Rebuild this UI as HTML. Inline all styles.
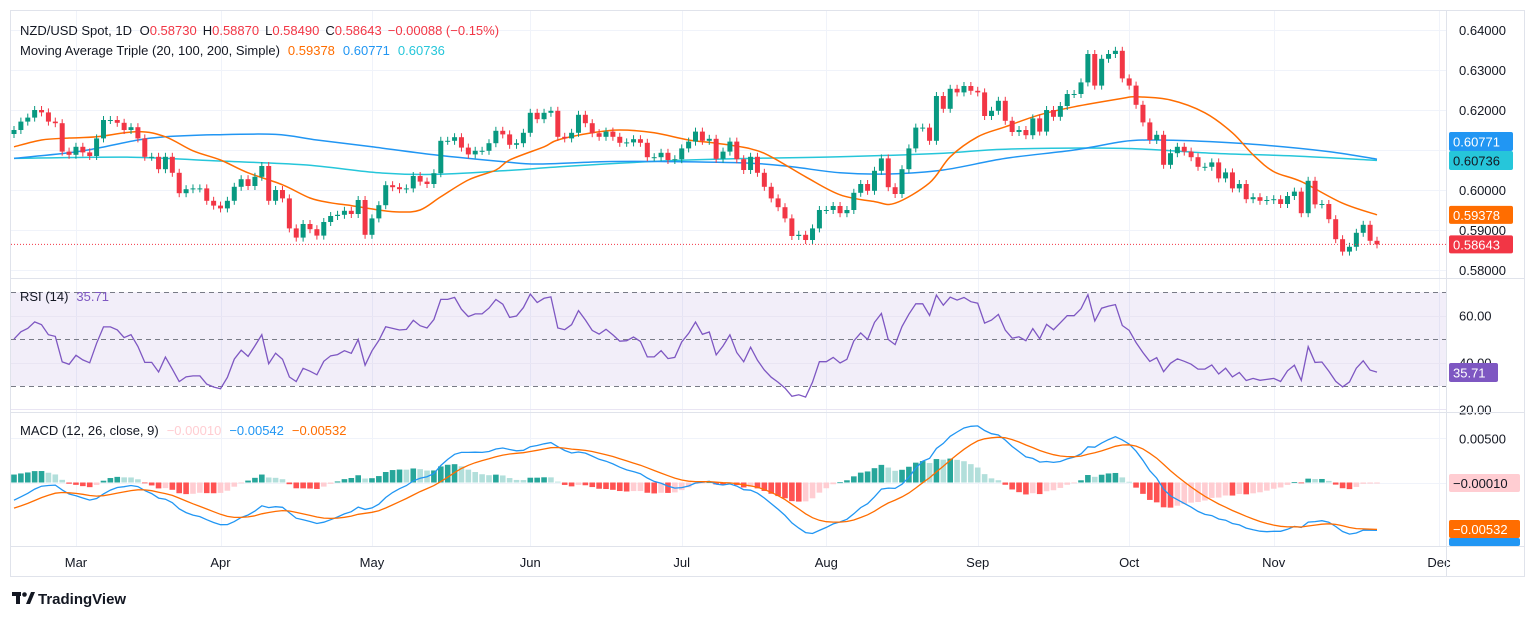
<!DOCTYPE html>
<html><head><meta charset="utf-8"><style>
html,body{margin:0;padding:0;background:#fff;width:1536px;height:618px;overflow:hidden}
svg{display:block;font-family:"Liberation Sans",sans-serif}
</style></head><body>
<svg id="c" width="1536" height="618" viewBox="0 0 1536 618" xmlns="http://www.w3.org/2000/svg">
<rect x="10.5" y="10.5" width="1514" height="566" fill="#fff" stroke="#e0e3eb"/>
<g id="grid"></g>
<g id="price"></g>
<g id="rsi"></g>
<g id="macd"></g>
<g id="axes"></g>
<line x1="11" y1="278.5" x2="1524" y2="278.5" stroke="#e0e3eb"/>
<line x1="11" y1="412.5" x2="1524" y2="412.5" stroke="#e0e3eb"/>
<line x1="11" y1="546.5" x2="1524" y2="546.5" stroke="#e0e3eb"/>
<line x1="1446.5" y1="11" x2="1446.5" y2="577" stroke="#e0e3eb"/>
<text x="20" y="35" font-size="13" fill="#131722">NZD/USD Spot, 1D <tspan dx="4">O</tspan><tspan fill="#f23645">0.58730</tspan><tspan dx="6">H</tspan><tspan fill="#f23645">0.58870</tspan><tspan dx="6">L</tspan><tspan fill="#f23645">0.58490</tspan><tspan dx="6">C</tspan><tspan fill="#f23645">0.58643</tspan><tspan dx="6" fill="#f23645">−0.00088 (−0.15%)</tspan></text>
<text x="20" y="55" font-size="13" fill="#131722">Moving Average Triple (20, 100, 200, Simple)<tspan dx="8" fill="#ff6d00">0.59378</tspan><tspan dx="8" fill="#2196f3">0.60771</tspan><tspan dx="8" fill="#26c6da">0.60736</tspan></text>
<text x="20" y="301" font-size="13" fill="#131722">RSI (14)<tspan dx="8" fill="#7e57c2">35.71</tspan></text>
<text x="20" y="435" font-size="13" fill="#131722">MACD (12, 26, close, 9)<tspan dx="8" fill="#ffcdd2">−0.00010</tspan><tspan dx="8" fill="#2196f3">−0.00542</tspan><tspan dx="8" fill="#ff6d00">−0.00532</tspan></text>
<g>
<rect x="12" y="592" width="9" height="4" fill="#131722"/><rect x="16" y="592" width="4" height="12" fill="#131722"/>
<circle cx="24.5" cy="594.5" r="2.3" fill="#131722"/><polygon points="26,604 31,592 35,592 30,604" fill="#131722"/>
<text x="38" y="604" font-size="15" font-weight="bold" fill="#131722">TradingView</text>
</g>
</svg>
<script>
const closes=[0.6150,0.6171,0.6181,0.6200,0.6194,0.6171,0.6167,0.6096,0.6088,0.6108,
0.6094,0.6085,0.6129,0.6175,0.6175,0.6168,0.6150,0.6157,0.6129,0.6083,
0.6083,0.6052,0.6083,0.6043,0.5992,0.6002,0.6004,0.6004,0.5973,0.5961,
0.5954,0.5973,0.6008,0.6027,0.6010,0.6033,0.6060,0.5973,0.6000,0.5979,
0.5904,0.5881,0.5915,0.5902,0.5886,0.5920,0.5935,0.5938,0.5948,0.5940,
0.5975,0.5888,0.5929,0.5962,0.6012,0.6007,0.6002,0.6004,0.6035,0.6021,
0.6015,0.6042,0.6123,0.6123,0.6132,0.6106,0.6089,0.6098,0.6098,0.6117,
0.6148,0.6139,0.6113,0.6117,0.6143,0.6193,0.6177,0.6193,0.6198,0.6133,
0.6129,0.6143,0.6188,0.6167,0.6142,0.6133,0.6146,0.6133,0.6118,0.6119,
0.6127,0.6118,0.6082,0.6082,0.6093,0.6075,0.6077,0.6104,0.6121,0.6146,
0.6123,0.6128,0.6078,0.6096,0.6121,0.6077,0.6050,0.6083,0.6043,0.6008,
0.5979,0.5957,0.5929,0.5885,0.5888,0.5875,0.5904,0.5950,0.5950,0.5960,
0.5942,0.5950,0.5993,0.6015,0.5998,0.6048,0.6079,0.6007,0.5990,0.6052,
0.6104,0.6156,0.6156,0.6123,0.6235,0.6203,0.6253,0.6244,0.6260,0.6248,
0.6244,0.6185,0.6198,0.6223,0.6173,0.6145,0.6150,0.6137,0.6179,0.6146,
0.6200,0.6183,0.6210,0.6240,0.6240,0.6269,0.6340,0.6261,0.6328,0.6340,
0.6348,0.6279,0.6261,0.6213,0.6169,0.6125,0.6138,0.6063,0.6092,0.6108,
0.6096,0.6082,0.6058,0.6058,0.6069,0.6029,0.6044,0.6004,0.6015,0.5977,
0.5982,0.5973,0.5975,0.5977,0.5965,0.5985,0.5996,0.5942,0.6023,0.5964,
0.5965,0.5927,0.5877,0.5846,0.5858,0.5893,0.5913,0.5873,0.5864];
const firstOpen=0.6140;
const ma20Idx=[0,4,8,12,18,22,26,30,34,39,43,46,49,53,56,59,62,66,70,72,77,79,84,88,93,98,102,107,110,115,120,125,128,133,136,140,144,149,154,161,163,168,173,177,180,183,187,193,198];
const ma20=[0.6108,0.6125,0.6130,0.6133,0.6146,0.6133,0.6098,0.6075,0.6043,0.6013,0.5980,0.5968,0.5961,0.5950,0.5945,0.5950,0.5983,0.6025,0.6050,0.6075,0.6108,0.6125,0.6143,0.6150,0.6143,0.6125,0.6117,0.6103,0.6083,0.6033,0.5988,0.5971,0.5967,0.6018,0.6083,0.6133,0.6158,0.6188,0.6208,0.6229,0.6233,0.6225,0.6193,0.6143,0.6088,0.6046,0.6021,0.5967,0.5938];
const ma100Idx=[0,8,12,18,22,29,38,44,52,61,71,76,86,95,107,113,120,127,135,144,154,161,165,171,181,191,198];
const ma100=[0.6079,0.6093,0.6104,0.6125,0.6133,0.6138,0.6139,0.6125,0.6108,0.6088,0.6071,0.6065,0.6071,0.6071,0.6067,0.6058,0.6043,0.6040,0.6050,0.6079,0.6100,0.6121,0.6125,0.6123,0.6113,0.6096,0.6077];
const ma200Idx=[0,17,29,42,53,61,71,81,95,107,120,135,144,161,174,186,198];
const ma200=[0.6079,0.6082,0.6073,0.6063,0.6043,0.6039,0.6048,0.6060,0.6073,0.6079,0.6083,0.6092,0.6102,0.6104,0.6092,0.6085,0.6074];
const priceTicks=[0.64,0.63,0.62,0.61,0.60,0.59,0.58];
const priceTickLabels=["0.64000","0.63000","0.62000","0.61000","0.60000","0.59000","0.58000"];
const rsiTicks=[60,40,20];
const rsiTickLabels=["60.00","40.00","20.00"];
const rsiBands=[70,50,30];
const macdTicks=[0.005];
const macdTickLabels=["0.00500"];
const months=["Mar","Apr","May","Jun","Jul","Aug","Sep","Oct","Nov","Dec"];
const monthIdx=[9,30,52,75,97,118,140,162,183,207];
const rsiSeedGain=0.0012, rsiSeedLoss=0.0012;
const ema12Seed=0.6142, ema26Seed=0.6162, signalSeed=-0.0029;

const NS="http://www.w3.org/2000/svg";
const X0=14, DX=(1377-14)/198, BW=5;
const xs=i=>X0+i*DX;
const yP=p=>30+(0.64-p)*4000;
const yR=v=>386-(v-30)*2.3425;
const yM=v=>482.5-v*8840;
function mk(tag,attrs,parent){const e=document.createElementNS(NS,tag);for(const k in attrs)e.setAttribute(k,attrs[k]);parent.appendChild(e);return e;}
const grid=document.getElementById('grid'),gP=document.getElementById('price'),gR=document.getElementById('rsi'),gM=document.getElementById('macd'),gA=document.getElementById('axes');

monthIdx.forEach((m,i)=>{const x=Math.round(xs(m))+0.5;if(x<1446){const l=mk('line',{x1:x,y1:11,x2:x,y2:546,stroke:'#f0f3fa'},grid);

}
const t=mk('text',{x:xs(m),y:567,'font-size':13,fill:'#131722','text-anchor':'middle'},gA);t.textContent=months[i];

});
priceTicks.forEach((p,i)=>{const y=Math.round(yP(p))+0.5;const l=mk('line',{x1:11,y1:y,x2:1446,y2:y,stroke:'#f0f3fa'},grid);


const t=mk('text',{x:1459,y:yP(p)+5,'font-size':13,fill:'#131722'},gA);t.textContent=priceTickLabels[i];

});
const bg=mk('rect',{x:11,y:yR(70),width:1435,height:yR(30)-yR(70),fill:'#7e57c2','fill-opacity':0.1},gR);


rsiTicks.forEach((v,i)=>{const y=Math.round(yR(v))+0.5;const l=mk('line',{x1:11,y1:y,x2:1446,y2:y,stroke:'#e9e5f3'},gR);


const t=mk('text',{x:1459,y:yR(v)+5,'font-size':13,fill:'#131722'},gA);t.textContent=rsiTickLabels[i];

});
rsiBands.forEach(v=>{const y=Math.round(yR(v))+0.5;const l=mk('line',{x1:11,y1:y,x2:1446,y2:y,stroke:'#787b86','stroke-dasharray':'5,4'},gR);

});
macdTicks.forEach((v,i)=>{const y=Math.round(yM(v))+0.5;const l=mk('line',{x1:11,y1:y,x2:1446,y2:y,stroke:'#f0f3fa'},grid);


const t=mk('text',{x:1459,y:yM(v)+5,'font-size':13,fill:'#131722'},gA);t.textContent=macdTickLabels[i];

});
const z=mk('line',{x1:11,y1:Math.round(yM(0))+0.5,x2:1446,y2:Math.round(yM(0))+0.5,stroke:'#f0f3fa'},grid);



function smooth(pts){let d='M'+pts[0][0].toFixed(1)+','+pts[0][1].toFixed(1);
for(let i=0;i<pts.length-1;i++){const p0=pts[Math.max(0,i-1)],p1=pts[i],p2=pts[i+1],p3=pts[Math.min(pts.length-1,i+2)];
const c1=[p1[0]+(p2[0]-p0[0])/6,p1[1]+(p2[1]-p0[1])/6],c2=[p2[0]-(p3[0]-p1[0])/6,p2[1]-(p3[1]-p1[1])/6];
d+='C'+c1.map(v=>v.toFixed(1)).join(',')+' '+c2.map(v=>v.toFixed(1)).join(',')+' '+p2[0].toFixed(1)+','+p2[1].toFixed(1);}return d;}
function line(arr){return 'M'+arr.map(p=>p[0].toFixed(1)+','+p[1].toFixed(1)).join('L');}

[[ma200Idx,ma200,'#26c6da','ma200-line'],[ma100Idx,ma100,'#2196f3','ma100-line'],[ma20Idx,ma20,'#ff6d00','ma20-line']].forEach(s=>{
const p=mk('path',{d:smooth(s[0].map((k,i)=>[xs(k),yP(s[1][i])])),fill:'none',stroke:s[2],'stroke-width':1.5},gP);

});

closes.forEach((c,i)=>{const o=i?closes[i-1]:firstOpen;const up=c>=o;const col=up?'#089981':'#f23645';
const hi=Math.max(o,c)+0.0010,lo=Math.min(o,c)-0.0010;const x=xs(i);
const g=mk('g',{},gP);


mk('line',{x1:x,y1:yP(hi),x2:x,y2:yP(lo),stroke:col,'stroke-width':1},g);
const t=yP(Math.max(o,c)),b=yP(Math.min(o,c));
mk('rect',{x:x-BW/2,y:t,width:BW,height:Math.max(1,b-t),fill:col},g);});
const last=closes[closes.length-1];
const pl=mk('line',{x1:11,y1:yP(last),x2:1446,y2:yP(last),stroke:'#f23645','stroke-dasharray':'1,2'},gP);



let ag=rsiSeedGain,al=rsiSeedLoss;const rsi=[100-100/(1+ag/al)];
for(let i=1;i<closes.length;i++){const d=closes[i]-closes[i-1];ag=(ag*13+Math.max(d,0))/14;al=(al*13+Math.max(-d,0))/14;rsi.push(100-100/(1+ag/al));}
const rp=mk('path',{d:line(rsi.map((v,i)=>[xs(i),yR(v)])),fill:'none',stroke:'#7e57c2','stroke-width':1.3},gR);



let e12=ema12Seed,e26=ema26Seed,sg=signalSeed;const mac=[],sig=[];
closes.forEach((c,i)=>{if(i){e12+=(c-e12)*2/13;e26+=(c-e26)*2/27;}const m=e12-e26;if(i)sg+=(m-sg)*2/10;mac.push(m);sig.push(sg);});
const hist=mac.map((m,i)=>m-sig[i]);
hist.forEach((h,i)=>{const prev=i?hist[i-1]:h;let col;if(h>=0)col=h>=prev?'#26a69a':'#b2dfdb';else col=h<prev?'#ff5252':'#ffcdd2';
const y0=yM(0),y1=yM(h);const r=mk('rect',{x:xs(i)-2.8,y:Math.min(y0,y1),width:5.6,height:Math.max(0.8,Math.abs(y1-y0)),fill:col},gM);

});
const mp=mk('path',{d:line(mac.map((v,i)=>[xs(i),yM(v)])),fill:'none',stroke:'#2196f3','stroke-width':1.3},gM);


const sp=mk('path',{d:line(sig.map((v,i)=>[xs(i),yM(v)])),fill:'none',stroke:'#ff6d00','stroke-width':1.3},gM);



function badge(y,h,bgc,fg,txt,name,w){const g=mk('g',{},gA);


mk('rect',{x:1449,y:y,width:w||64,height:h,rx:2,fill:bgc},g);const t=mk('text',{x:1453,y:y+h/2+5,'font-size':13,fill:fg},g);t.textContent=txt;}
badge(132,19,'#2196f3','#fff','0.60771','ma100-badge');
badge(151,19,'#26c6da','#131722','0.60736','ma200-badge');
badge(yP(0.59378)-9,18,'#ff6d00','#fff','0.59378','ma20-badge');
badge(yP(last)-9,18,'#f23645','#fff','0.58643','last-price-badge');
badge(363,19,'#7e57c2','#fff','35.71','rsi-badge',49);
badge(474,18,'#ffcdd2','#131722','−0.00010','histogram-badge',71);
badge(538,8,'#2196f3','#fff','','macd-badge',71);
badge(520,18,'#ff6d00','#fff','−0.00532','signal-badge',71);
</script>
</body></html>
